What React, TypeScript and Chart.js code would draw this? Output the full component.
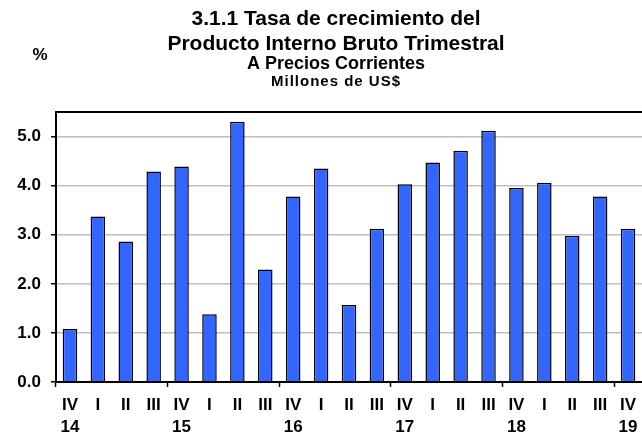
import { useEffect, useRef } from "react";
import { Chart, registerables } from "chart.js";

Chart.register(...registerables);

const quarters = ["IV", "I", "II", "III", "IV", "I", "II", "III", "IV", "I", "II", "III", "IV", "I", "II", "III", "IV", "I", "II", "III", "IV"];
const years = ["14", "", "", "", "15", "", "", "", "16", "", "", "", "17", "", "", "", "18", "", "", "", "19"];
const growth = [1.08, 3.37, 2.86, 4.29, 4.39, 1.38, 5.3, 2.29, 3.78, 4.35, 1.57, 3.12, 4.03, 4.47, 4.71, 5.12, 3.95, 4.06, 2.98, 3.78, 3.12];
const yTickValues = [0, 1, 2, 3, 4, 5];
const titleMain = ["3.1.1 Tasa de crecimiento del", "Producto Interno Bruto Trimestral"];
const titleSub = "A Precios Corrientes";
const titleUnit = "Millones de US$";
const axisUnit = "%";

const FONT = "'Liberation Sans', Arial, sans-serif";

const textPlugin = {
  id: "textPlugin",
  afterDraw(chart: any) {
    const ctx = chart.ctx as CanvasRenderingContext2D;
    const { left, top } = chart.chartArea;
    ctx.save();
    ctx.fillStyle = "#000";
    ctx.textAlign = "center";
    ctx.textBaseline = "middle";
    const cx = 336;
    ctx.font = `bold 21px ${FONT}`;
    ctx.fillText(titleMain[0], cx, 19);
    ctx.fillText(titleMain[1], cx, 44);
    ctx.font = `bold 18px ${FONT}`;
    ctx.fillText(titleSub, cx, 64);
    ctx.font = `bold 15px ${FONT}`;
    (ctx as any).letterSpacing = "1px";
    ctx.fillText(titleUnit, cx, 82);
    (ctx as any).letterSpacing = "0px";
    ctx.font = `bold 17px ${FONT}`;
    ctx.fillText(axisUnit, 40, 55);
    // top frame line
    ctx.strokeStyle = "#000";
    ctx.lineWidth = 2;
    ctx.beginPath();
    ctx.moveTo(left - 1, top);
    ctx.lineTo(chart.width, top);
    ctx.stroke();
    ctx.restore();
  },
};

export default function App() {
  const ref = useRef<HTMLCanvasElement>(null);
  useEffect(() => {
    const canvas = ref.current!;
    const chart = new Chart(canvas, {
      type: "bar",
      data: {
        labels: quarters.map((q, i) => [q, years[i]]),
        datasets: [
          {
            data: growth,
            backgroundColor: "#3366FF",
            borderColor: "#000",
            borderWidth: 1.5,
            categoryPercentage: 1,
            barPercentage: 0.52,
          },
        ],
      },
      options: {
        animation: false,
        responsive: false,
        maintainAspectRatio: false,
        layout: { padding: { top: 112, right: 30, left: 0, bottom: 0 } },
        plugins: { legend: { display: false }, tooltip: { enabled: false }, title: { display: false } },
        scales: {
          x: {
            offset: true,
            grid: {
              offset: true,
              drawOnChartArea: false,
              tickLength: 5,
              tickWidth: 1.5,
              tickColor: (c: any) => (c.index % 4 === 0 ? "#000" : "rgba(0,0,0,0)"),
            },
            border: { color: "#000", width: 2 },
            ticks: {
              autoSkip: false,
              maxRotation: 0,
              minRotation: 0,
              padding: 8,
              color: "#000",
              font: { family: FONT, size: 17, weight: "bold", lineHeight: 1.25 },
            },
            afterFit: (s: any) => {
              s.height = 51;
            },
          },
          y: {
            min: 0,
            max: 5.5,
            afterBuildTicks: (s: any) => {
              s.ticks = yTickValues.map((v) => ({ value: v }));
            },
            grid: {
              color: (c: any) => (c.tick && c.tick.value === 0 ? "rgba(0,0,0,0)" : "#BFBFBF"),
              lineWidth: 1.5,
              tickLength: 5,
              tickColor: "#000",
              tickWidth: 1.5,
            },
            border: { color: "#000", width: 2 },
            ticks: {
              padding: 10,
              color: "#000",
              font: { family: FONT, size: 17, weight: "bold" },
              callback: (v: any) => Number(v).toFixed(1),
            },
            afterFit: (s: any) => {
              s.width = 56;
            },
          },
        },
      },
      plugins: [textPlugin],
    });
    return () => chart.destroy();
  }, []);
  return (
    <div style={{ position: "fixed", left: 0, top: 0, width: 672, height: 433, background: "#fff" }}>
      <canvas ref={ref} width={672} height={433} style={{ display: "block" }} />
    </div>
  );
}
